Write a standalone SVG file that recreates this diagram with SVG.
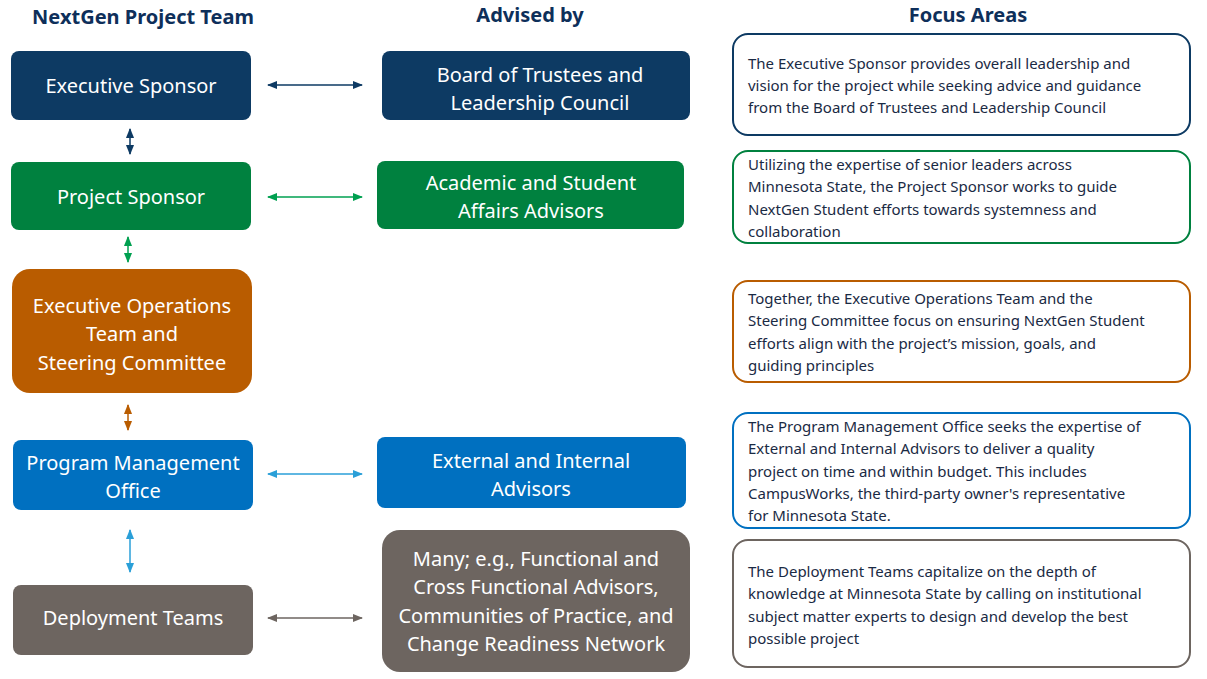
<svg xmlns="http://www.w3.org/2000/svg" width="1207" height="679" viewBox="0 0 1207 679">
<defs>
<style>
.h{font-family:"Noto Sans","Liberation Sans",sans-serif;font-size:20px;font-weight:bold;fill:#0e2f5a;text-anchor:middle}
.bt{font-family:"Noto Sans","Liberation Sans",sans-serif;font-size:20px;fill:#fff;text-anchor:middle}
.ft{font-family:"Noto Sans","Liberation Sans",sans-serif;font-size:15px;fill:#1a2a44}
.fb{fill:#fff;stroke-width:2}
.c{fill:none;stroke-width:1.5}
</style>
<marker id="an" viewBox="0 0 10 10" refX="9" refY="5" markerWidth="7" markerHeight="7" orient="auto-start-reverse"><path d="M0,1 L10,5 L0,9 z" fill="#0d3a63"/></marker>
<marker id="ag" viewBox="0 0 10 10" refX="9" refY="5" markerWidth="7" markerHeight="7" orient="auto-start-reverse"><path d="M0,1 L10,5 L0,9 z" fill="#00a050"/></marker>
<marker id="ao" viewBox="0 0 10 10" refX="9" refY="5" markerWidth="7" markerHeight="7" orient="auto-start-reverse"><path d="M0,1 L10,5 L0,9 z" fill="#b95c00"/></marker>
<marker id="ab" viewBox="0 0 10 10" refX="9" refY="5" markerWidth="7" markerHeight="7" orient="auto-start-reverse"><path d="M0,1 L10,5 L0,9 z" fill="#2a9fd8"/></marker>
<marker id="ay" viewBox="0 0 10 10" refX="9" refY="5" markerWidth="7" markerHeight="7" orient="auto-start-reverse"><path d="M0,1 L10,5 L0,9 z" fill="#6d6560"/></marker>
</defs>
<rect width="1207" height="679" fill="#fff"/>
<text class="h" x="143" y="24">NextGen Project Team</text>
<text class="h" x="530" y="22">Advised by</text>
<text class="h" x="968" y="22">Focus Areas</text>

<g id="exec-sponsor"><rect x="11" y="51" width="240" height="69" rx="8" fill="#0d3a63"/><text class="bt" x="131" y="93">Executive Sponsor</text></g>
<g id="project-sponsor"><rect x="11" y="162" width="240" height="68" rx="8" fill="#00813f"/><text class="bt" x="131" y="204">Project Sponsor</text></g>
<g id="exec-ops"><rect x="12" y="269" width="240" height="124" rx="18" fill="#b95c00"/><text class="bt" x="132" y="313">Executive Operations</text><text class="bt" x="132" y="341">Team and</text><text class="bt" x="132" y="370">Steering Committee</text></g>
<g id="pmo"><rect x="13" y="440" width="240" height="70" rx="8" fill="#0070c0"/><text class="bt" x="133" y="470">Program Management</text><text class="bt" x="133" y="498">Office</text></g>
<g id="deployment"><rect x="13" y="585" width="240" height="70" rx="8" fill="#6d6560"/><text class="bt" x="133" y="625">Deployment Teams</text></g>

<g id="board"><rect x="382" y="51" width="308" height="69" rx="8" fill="#0d3a63"/><text class="bt" x="540" y="82">Board of Trustees and</text><text class="bt" x="540" y="110">Leadership Council</text></g>
<g id="academic"><rect x="377" y="161" width="307" height="68" rx="8" fill="#00813f"/><text class="bt" x="531" y="190">Academic and Student</text><text class="bt" x="531" y="218">Affairs Advisors</text></g>
<g id="external"><rect x="377" y="437" width="309" height="71" rx="8" fill="#0070c0"/><text class="bt" x="531" y="468">External and Internal</text><text class="bt" x="531" y="496">Advisors</text></g>
<g id="many"><rect x="382" y="530" width="308" height="142" rx="18" fill="#6d6560"/><text class="bt" x="536" y="566">Many; e.g., Functional and</text><text class="bt" x="536" y="594">Cross Functional Advisors,</text><text class="bt" x="536" y="623">Communities of Practice, and</text><text class="bt" x="536" y="651">Change Readiness Network</text></g>

<g id="focus-1"><rect class="fb" x="733" y="34" width="457" height="101" rx="15" stroke="#0d3a63"/>
<text class="ft" x="748" y="69">The Executive Sponsor provides overall leadership and</text>
<text class="ft" x="748" y="91">vision for the project while seeking advice and guidance</text>
<text class="ft" x="748" y="113">from the Board of Trustees and Leadership Council</text></g>
<g id="focus-2"><rect class="fb" x="733" y="151" width="457" height="92" rx="15" stroke="#00813f"/>
<text class="ft" x="748" y="170">Utilizing the expertise of senior leaders across</text>
<text class="ft" x="748" y="192">Minnesota State, the Project Sponsor works to guide</text>
<text class="ft" x="748" y="215">NextGen Student efforts towards systemness and</text>
<text class="ft" x="748" y="237">collaboration</text></g>
<g id="focus-3"><rect class="fb" x="733" y="281" width="457" height="101" rx="15" stroke="#b95c00"/>
<text class="ft" x="748" y="304">Together, the Executive Operations Team and the</text>
<text class="ft" x="748" y="326">Steering Committee focus on ensuring NextGen Student</text>
<text class="ft" x="748" y="349">efforts align with the project’s mission, goals, and</text>
<text class="ft" x="748" y="371">guiding principles</text></g>
<g id="focus-4"><rect class="fb" x="733" y="413" width="457" height="115" rx="15" stroke="#0070c0"/>
<text class="ft" x="748" y="432">The Program Management Office seeks the expertise of</text>
<text class="ft" x="748" y="454">External and Internal Advisors to deliver a quality</text>
<text class="ft" x="748" y="477">project on time and within budget. This includes</text>
<text class="ft" x="748" y="499">CampusWorks, the third-party owner's representative</text>
<text class="ft" x="748" y="521">for Minnesota State.</text></g>
<g id="focus-5"><rect class="fb" x="733" y="540" width="457" height="127" rx="15" stroke="#6d6560"/>
<text class="ft" x="748" y="577">The Deployment Teams capitalize on the depth of</text>
<text class="ft" x="748" y="599">knowledge at Minnesota State by calling on institutional</text>
<text class="ft" x="748" y="622">subject matter experts to design and develop the best</text>
<text class="ft" x="748" y="644">possible project</text></g>

<g id="connectors">
<line class="c" x1="268" y1="85" x2="362" y2="85" stroke="#0d3a63" marker-start="url(#an)" marker-end="url(#an)"/>
<line class="c" x1="268" y1="197" x2="362" y2="197" stroke="#00a050" marker-start="url(#ag)" marker-end="url(#ag)"/>
<line class="c" x1="268" y1="474" x2="362" y2="474" stroke="#2a9fd8" marker-start="url(#ab)" marker-end="url(#ab)"/>
<line class="c" x1="268" y1="618" x2="362" y2="618" stroke="#6d6560" marker-start="url(#ay)" marker-end="url(#ay)"/>
<line class="c" x1="130" y1="129" x2="130" y2="154" stroke="#0d3a63" marker-start="url(#an)" marker-end="url(#an)"/>
<line class="c" x1="128" y1="237" x2="128" y2="262" stroke="#00a050" marker-start="url(#ag)" marker-end="url(#ag)"/>
<line class="c" x1="128" y1="405" x2="128" y2="430" stroke="#b95c00" marker-start="url(#ao)" marker-end="url(#ao)"/>
<line class="c" x1="130" y1="530" x2="130" y2="572" stroke="#2a9fd8" marker-start="url(#ab)" marker-end="url(#ab)"/>
</g>
</svg>
